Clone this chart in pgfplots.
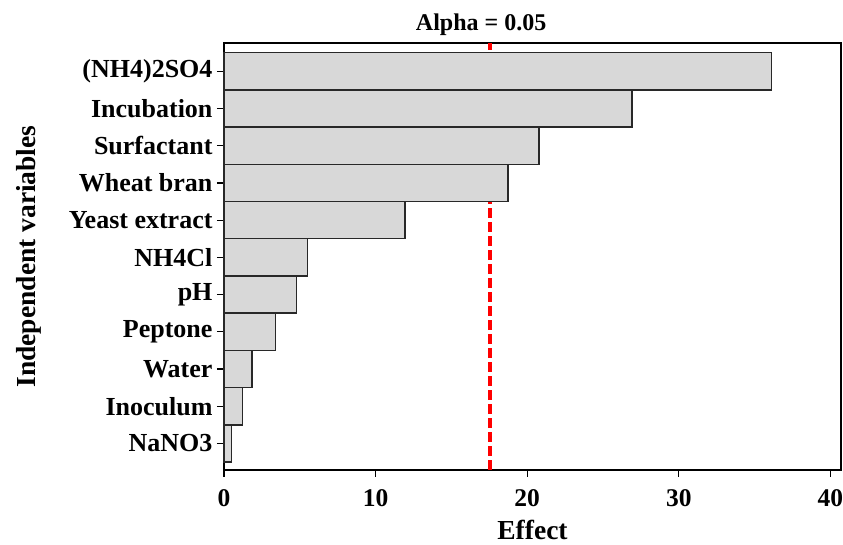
\documentclass[border=0pt]{standalone}
\usepackage{pgfplots}
\pgfplotsset{compat=1.18}
\usepackage{fontspec}
\setmainfont{Liberation Serif}
\definecolor{barfill}{RGB}{216,216,216}
\definecolor{baredge}{RGB}{40,40,40}
\begin{document}
\begin{tikzpicture}
\begin{axis}[
  scale only axis,
  width=617pt, height=427pt,
  xmin=0, xmax=40.7,
  ymin=-0.715, ymax=10.76,
  xtick={0,10,20,30,40},
  ytick={0,1,2,3,4,5,6,7,8,9,10},
  yticklabels={NaNO3,Inoculum,Water,Peptone,pH,NH4Cl,Yeast extract,Wheat bran,Surfactant,Incubation,(NH4)2SO4},
  tick align=outside,
  xtick pos=bottom, ytick pos=left,
  major tick length=7pt,
  every tick/.style={black, line width=1.2pt},
  axis line style={line width=1.5pt},
  /pgf/number format/assume math mode=true,
  yticklabel style={font=\fontsize{26}{30}\selectfont\bfseries, xshift=-1pt},
  xticklabel style={font=\fontsize{25.5}{30}\selectfont\bfseries, yshift=-9pt},
  label style={font=\fontsize{27.5}{32}\selectfont\bfseries},
  xlabel={Effect},
  ylabel={Independent variables},
  xlabel style={at={(axis description cs:0.5,-0.141)}, anchor=center},
  ylabel style={at={(axis description cs:-0.316,0.5)}, anchor=center},
  clip=false,
]
\addplot[red, line width=3.5pt, dash pattern=on 10pt off 4pt] coordinates {(17.56,-0.715) (17.56,10.76)};
\addplot[xbar, bar width=1, fill=barfill, draw=baredge, line width=1.5pt] coordinates {
  (0.48,0) (1.23,1) (1.85,2) (3.41,3) (4.78,4) (5.5,5) (11.95,6) (18.73,7) (20.77,8) (26.9,9) (36.1,10)
};
\node[anchor=base, font=\fontsize{24}{28}\selectfont\bfseries, inner sep=0pt, yshift=12pt] at (axis cs:16.96,10.76) {Alpha = 0.05};
\end{axis}
\pgfresetboundingbox
\path (-224pt,-75pt) rectangle (619pt,470pt);
\end{tikzpicture}
\end{document}
